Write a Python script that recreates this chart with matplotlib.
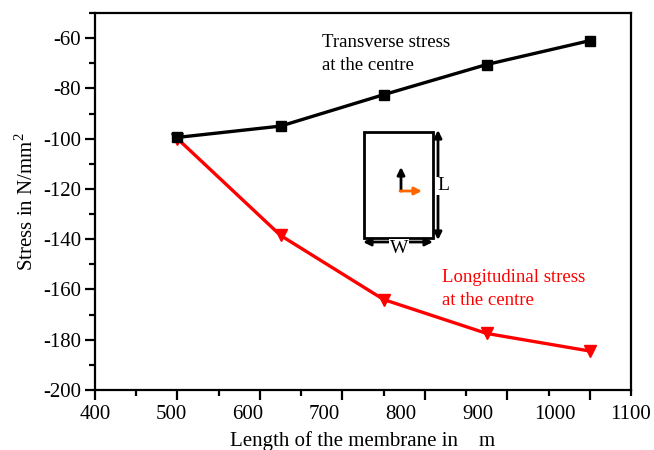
import matplotlib
matplotlib.use('Agg')
import matplotlib.pyplot as plt
from matplotlib.patches import Rectangle, FancyArrowPatch
from matplotlib.ticker import MultipleLocator

plt.rcParams['font.family'] = ['Liberation Serif', 'DejaVu Serif']
plt.rcParams['mathtext.fontset'] = 'custom'
plt.rcParams['mathtext.rm'] = 'Liberation Serif'
plt.rcParams['axes.unicode_minus'] = False

# membrane length (um) and stresses (N/mm^2)
length = [500, 625, 750, 875, 1000]
transverse = [-99.5, -95, -82.5, -70.5, -61]
longitudinal = [-100, -138.5, -164, -177.5, -184.5]

# the printed x labels are spread evenly and do not sit on the ticks
x_labels = [400, 500, 600, 700, 800, 900, 1000, 1100]

fig = plt.figure(figsize=(6.54, 4.5), dpi=100)
ax = fig.add_axes([95 / 654, 60 / 450, 536 / 654, 377 / 450])

ax.plot(length, transverse, color='black', lw=2.4, marker='s', ms=7.5, zorder=3)
ax.plot(length, longitudinal, color='red', lw=2.4, marker='v', ms=9, zorder=2)

ax.set_xlim(400, 1050)
ax.set_ylim(-200, -50)
ax.set_xticks(range(400, 1001, 100))
ax.xaxis.set_minor_locator(MultipleLocator(50))
ax.set_xticklabels([])
ax.set_yticks(range(-200, -59, 20))
ax.yaxis.set_minor_locator(MultipleLocator(10))
ax.tick_params(which='major', direction='out', length=7, width=1.6, labelsize=15, pad=3)
ax.tick_params(which='minor', direction='out', length=4, width=1.6)
for s in ax.spines.values():
    s.set_linewidth(1.6)


def to_lab(x):
    return 400 + (x - 400) * 700 / 650


def from_lab(x):
    return 400 + (x - 400) * 650 / 700


sec = ax.secondary_xaxis('bottom', functions=(to_lab, from_lab))
sec.set_xticks(x_labels)
sec.tick_params(length=0, labelsize=15, pad=11)
sec.spines['bottom'].set_visible(False)
sec.set_xlabel('Length of the membrane in    m', fontsize=15, labelpad=5)

ax.set_ylabel('Stress in N/mm$^2$', fontsize=15, labelpad=4)

ax.text(0.424, 0.945, 'Transverse stress\nat the centre', transform=ax.transAxes,
        fontsize=13.5, va='top', ha='left', linespacing=1.45)
ax.text(0.647, 0.32, 'Longitudinal stress\nat the centre', transform=ax.transAxes,
        fontsize=13.5, va='top', ha='left', color='red', linespacing=1.45)


# membrane sketch, placed in pixel-like axes fractions
def fx(px):
    return (px - 95) / 536


def fy(py):
    return (390 - py) / 377


ax.add_patch(Rectangle((fx(364), fy(238)), fx(433) - fx(364), fy(132) - fy(238),
                       transform=ax.transAxes, fill=False, lw=2, ec='black'))


def arrow(p0, p1, style, color='black', lw=2):
    ax.add_patch(FancyArrowPatch((fx(p0[0]), fy(p0[1])), (fx(p1[0]), fy(p1[1])),
                                 transform=ax.transAxes, arrowstyle=style,
                                 mutation_scale=11, color=color, lw=lw,
                                 shrinkA=0, shrinkB=0))


arrow((438, 240), (438, 130), '<|-|>')
arrow((363, 242), (433, 242), '<|-|>')
arrow((401, 191), (401, 167), '-|>')
arrow((400, 191), (422, 191), '-|>', color='#ff6600')
ax.text(fx(443), fy(186), 'L', transform=ax.transAxes, fontsize=14, va='center', ha='center',
        bbox=dict(fc='white', ec='none', pad=0.5))
ax.text(fx(399), fy(248), 'W', transform=ax.transAxes, fontsize=14, va='center', ha='center',
        bbox=dict(fc='white', ec='none', pad=0.5))

fig.savefig('out.png', dpi=100)
